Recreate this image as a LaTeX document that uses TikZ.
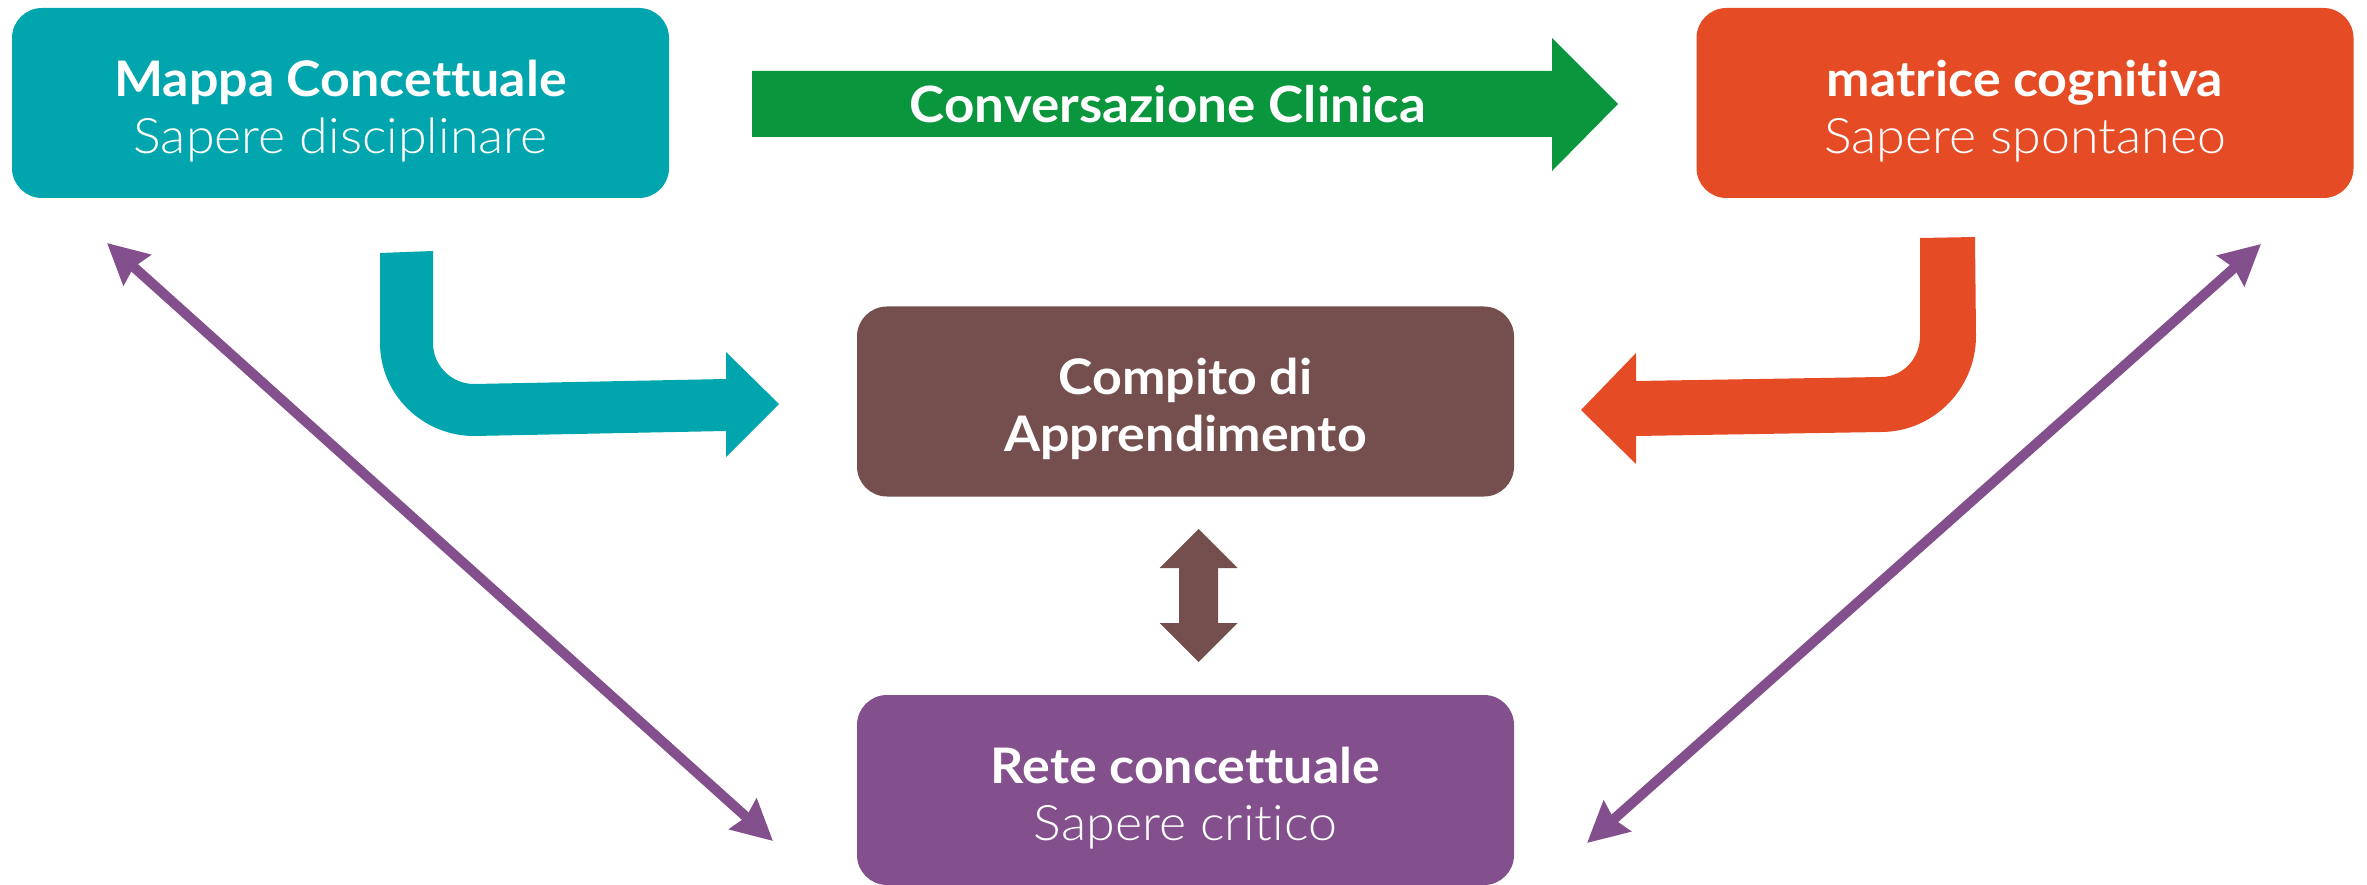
\documentclass[tikz,border=0pt]{standalone}
\usepackage{fontspec}
\setmainfont{Lato}[Ligatures=NoCommon, FakeStretch=1.06]
\newfontfamily\lightf{Lato Light}[Ligatures=NoCommon, FakeStretch=1.06]
\usetikzlibrary{arrows.meta}
\definecolor{cteal}{RGB}{0,165,173}
\definecolor{corange}{RGB}{229,75,36}
\definecolor{cgreen}{RGB}{10,150,60}
\definecolor{cbrown}{RGB}{117,79,78}
\definecolor{cpurple}{RGB}{131,79,140}
\newcommand\topstrutx{\rule{0pt}{52pt}}
\tikzset{
  box/.style={rounded corners=30pt, minimum width=657pt, minimum height=190pt,
    inner sep=0pt, text=white, align=center, font=\fontsize{49}{57}\selectfont},
  purp/.style={draw=cpurple, line width=10pt,
    {Stealth[length=40pt,width=40pt,inset=4pt]}-{Stealth[length=40pt,width=40pt,inset=4pt]}},
  lbl/.style={text=white, font=\fontsize{50}{57}\selectfont\bfseries, inner sep=0pt}
}
\begin{document}
\begin{tikzpicture}[x=1pt,y=-1pt]
\useasboundingbox (0,0) rectangle (2367,885);
% boxes
\node[box, fill=cteal] (mappa) at (340.5,103) {\topstrutx{\bfseries Mappa Concettuale}\\{\lightf Sapere disciplinare}};
\node[box, fill=corange] (matrice) at (2025,103) {\topstrutx{\bfseries matrice cognitiva}\\{\lightf Sapere spontaneo}};
\node[box, fill=cbrown] (compito) at (1185.5,401.5) {\topstrutx{\bfseries Compito di}\\{\bfseries Apprendimento}};
\node[box, fill=cpurple] (rete) at (1185.5,790) {\topstrutx{\bfseries Rete concettuale}\\{\lightf Sapere critico}};
% green arrow
\fill[cgreen] (752,71) -- (1552,71) -- (1552,38) -- (1618,104) -- (1552,171) -- (1552,137) -- (752,137) -- cycle;
\node[lbl] (conv) at (1168,104) {Conversazione Clinica};
% teal bent arrow
\fill[cteal] (380,253) -- (433,251) -- (433,343)
  .. controls (433,365.6) and (451.4,384) .. (474,384)
  -- (726,379) -- (726,352) -- (779,404) -- (726,457) -- (726,431) -- (474,436)
  .. controls (422.6,436) and (380,394.4) .. (380,343) -- cycle;
% orange bent arrow
\fill[corange] (1975,237) -- (1920,238) -- (1920,336)
  .. controls (1920,359) and (1902.5,377) .. (1881,377)
  -- (1636,381) -- (1636,353) -- (1581,410) -- (1636,464) -- (1636,436) -- (1881,432)
  .. controls (1933,432) and (1976,389) .. (1976,336) -- cycle;
% brown double arrow
\fill[cbrown] (1198.5,529) -- (1237.5,568) -- (1218,568) -- (1218,623) -- (1237.5,623)
  -- (1198.5,662) -- (1159.5,623) -- (1179,623) -- (1179,568) -- (1159.5,568) -- cycle;
% purple double arrows
\coordinate (l1) at (107,243);
\coordinate (l2) at (773,841);
\coordinate (r1) at (2261,244);
\coordinate (r2) at (1587,843);
\draw[purp] (l1) -- (l2);
\draw[purp] (r1) -- (r2);
\end{tikzpicture}
\end{document}
